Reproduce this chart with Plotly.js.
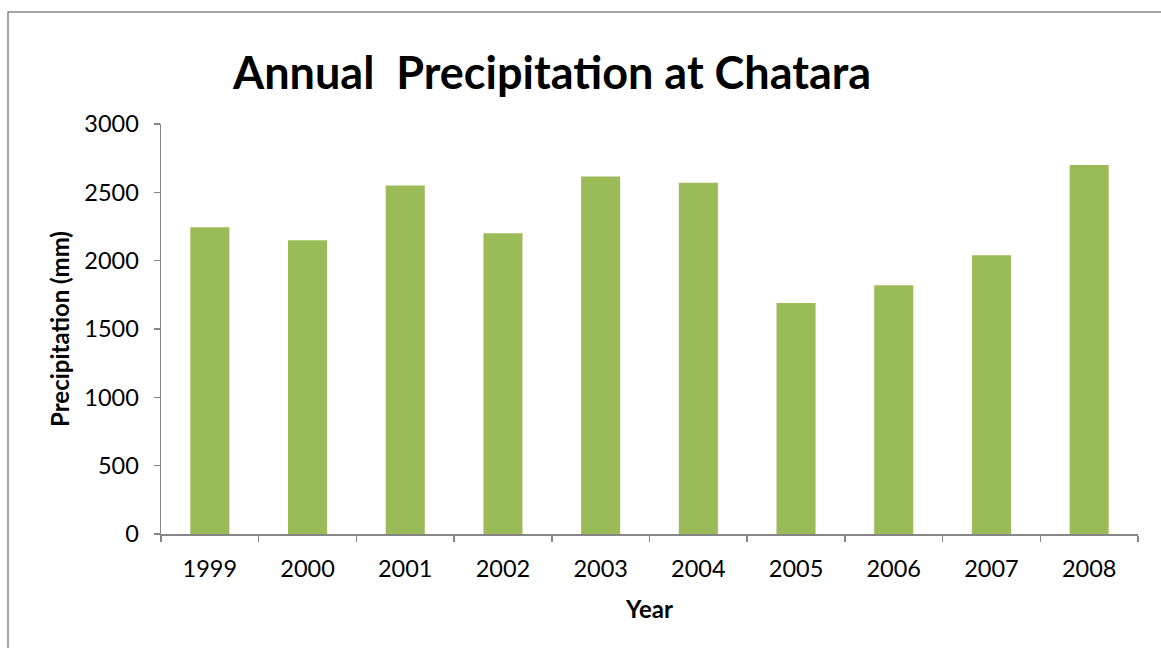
<!DOCTYPE html>
<html>
<head>
<meta charset="utf-8">
<script src="https://cdn.plot.ly/plotly-3.0.1.min.js"></script>
<style>
  html, body { margin: 0; padding: 0; background: #ffffff; }
  #chart { width: 1161px; height: 648px; }
</style>
</head>
<body>
<div id="chart"></div>
<script>
// Annual precipitation totals (mm) recorded at Chatara
const years = ["1999", "2000", "2001", "2002", "2003", "2004", "2005", "2006", "2007", "2008"];
const precipitation = [2245, 2150, 2550, 2200, 2615, 2570, 1690, 1820, 2040, 2700];

const axisGrey = "#868686";
const barGreen = "#9BBB59";
const font = "Lato, 'Open Sans', sans-serif";

const trace = {
  type: "bar",
  x: years,
  y: precipitation,
  marker: { color: barGreen },
  hoverinfo: "x+y"
};

const layout = {
  width: 1161,
  height: 648,
  margin: { l: 161, r: 23, t: 124, b: 114 },
  paper_bgcolor: "#ffffff",
  plot_bgcolor: "#ffffff",
  font: { family: font, color: "#000000" },
  showlegend: false,
  bargap: 0.6,
  title: {
    text: "<b>Annual  Precipitation at Chatara</b>",
    font: { family: font, size: 45, color: "#000000" },
    x: 0.4755,
    xanchor: "center",
    xref: "container",
    yref: "container",
    y: 0.887,
    yanchor: "middle"
  },
  xaxis: {
    type: "category",
    tickson: "boundaries",
    ticks: "outside",
    ticklen: 6,
    tickwidth: 1.5,
    tickcolor: axisGrey,
    showline: true,
    linecolor: axisGrey,
    linewidth: 1.5,
    showgrid: false,
    zeroline: false,
    ticklabelstandoff: 13,
    tickfont: { family: font, size: 23.5, color: "#000000" },
    title: {
      text: "<b>Year</b>",
      font: { family: font, size: 24, color: "#000000" },
      standoff: 20
    }
  },
  yaxis: {
    range: [0, 3000],
    dtick: 500,
    tick0: 0,
    ticks: "outside",
    ticklen: 6,
    tickwidth: 1.5,
    tickcolor: axisGrey,
    showline: true,
    linecolor: axisGrey,
    linewidth: 1.5,
    showgrid: false,
    zeroline: false,
    ticklabelstandoff: 10,
    tickfont: { family: font, size: 23.5, color: "#000000" },
    title: {
      text: "<b>Precipitation (mm)</b>",
      font: { family: font, size: 24, color: "#000000" },
      standoff: 8
    }
  },
  shapes: [
    {
      // chart frame
      type: "rect",
      xref: "paper", yref: "paper",
      x0: -0.1566, x1: 1.06,
      y0: -0.32, y1: 1.273,
      line: { color: axisGrey, width: 1.5 },
      fillcolor: "rgba(0,0,0,0)",
      layer: "below"
    }
  ]
};

Plotly.newPlot("chart", [trace], layout, { displayModeBar: false, staticPlot: true });
</script>
</body>
</html>
